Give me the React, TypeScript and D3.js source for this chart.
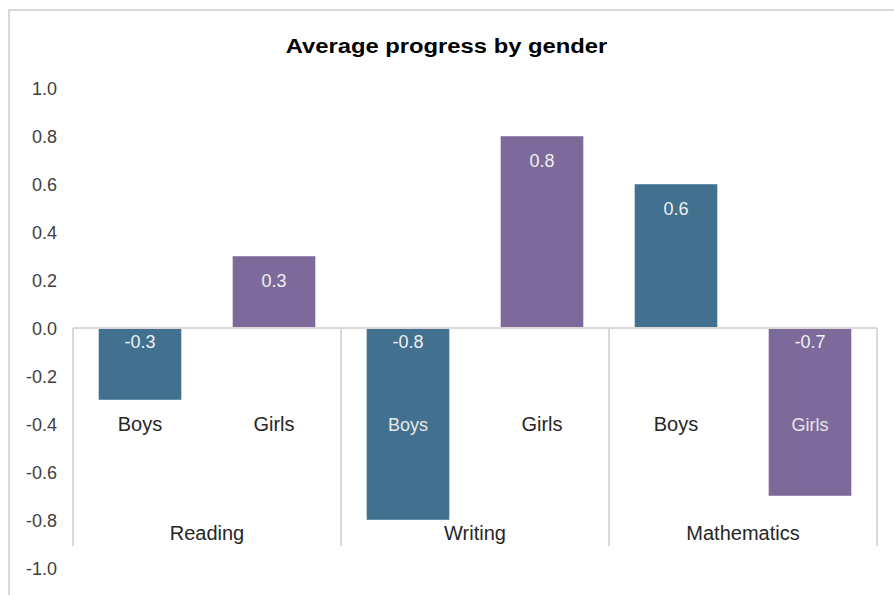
import React from "react";
import * as d3 from "d3";

const subjects = ["Reading", "Writing", "Mathematics"];
const genders = ["Boys", "Girls"];
const boysValues = [-0.3, -0.8, 0.6];
const girlsValues = [0.3, 0.8, -0.7];
const yTicks = [1.0, 0.8, 0.6, 0.4, 0.2, 0.0, -0.2, -0.4, -0.6, -0.8, -1.0];
const title = "Average progress by gender";

const colors: Record<string, string> = { Boys: "#41718F", Girls: "#7D6A9A" };

export default function App() {
  const W = 894;
  const H = 595;
  const left = 73;
  const right = 877;
  const y = d3.scaleLinear().domain([-1, 1]).range([568, 88]);
  const x0 = d3.scaleBand<string>().domain(subjects).range([left, right]).padding(0);
  const x1 = d3
    .scaleBand<string>()
    .domain(genders)
    .range([0, x0.bandwidth()])
    .paddingInner(0.38)
    .paddingOuter(0.19);

  const rows = subjects.flatMap((s, i) => [
    { subject: s, gender: "Boys", value: boysValues[i] },
    { subject: s, gender: "Girls", value: girlsValues[i] },
  ]);

  const fmt = (v: number) => (Math.abs(v) < 1e-9 ? 0 : v).toFixed(1);
  const zero = y(0);
  const genderLabelY = 431;
  const genderLabelValue = y.invert(424);
  const dividerBottom = 546;
  const font = "Arial, 'Liberation Sans', sans-serif";

  return (
    <svg
      width={W}
      height={H}
      style={{ position: "absolute", left: 0, top: 0, background: "#fff" }}
      fontFamily={font}
    >
      <rect x={9} y={10} width={W + 20} height={H + 20} fill="#fff" stroke="#d9d9d9" strokeWidth={2} />
      <text
        transform="translate(446.5,53) scale(1.19,1)"
        textAnchor="middle"
        fontSize={20}
        fontWeight="bold"
        fill="#000"
      >
        {title}
      </text>
      {yTicks.map((t) => (
        <text key={t} x={57} y={y(t) + 6.5} textAnchor="end" fontSize={18} fill="#404040">
          {fmt(t)}
        </text>
      ))}
      {rows.map((r) => {
        const bx = (x0(r.subject) as number) + (x1(r.gender) as number);
        const bw = x1.bandwidth();
        const top = Math.min(y(r.value), zero);
        const h = Math.abs(y(r.value) - zero);
        return (
          <rect
            key={r.subject + r.gender}
            x={bx}
            y={top}
            width={bw}
            height={h}
            fill={colors[r.gender]}
            stroke="rgba(255,255,255,0.45)"
            strokeWidth={1}
          />
        );
      })}
      <line x1={left} x2={right} y1={zero} y2={zero} stroke="#d9d9d9" strokeWidth={2} />
      {[...subjects.map((s) => x0(s) as number), right].map((xv, i) => (
        <line key={i} x1={xv} x2={xv} y1={zero} y2={dividerBottom} stroke="#d9d9d9" strokeWidth={2} />
      ))}
      {rows.map((r) => {
        const cx = (x0(r.subject) as number) + (x1(r.gender) as number) + x1.bandwidth() / 2;
        const vy = r.value >= 0 ? y(r.value) + 31 : zero + 20;
        return (
          <text key={"v" + r.subject + r.gender} x={cx} y={vy} textAnchor="middle" fontSize={18} fill="#f0f0f0">
            {fmt(r.value)}
          </text>
        );
      })}
      {rows.map((r) => {
        const cx = (x0(r.subject) as number) + (x1(r.gender) as number) + x1.bandwidth() / 2;
        const inside = r.value < genderLabelValue;
        return (
          <text
            key={"g" + r.subject + r.gender}
            x={cx}
            y={genderLabelY}
            textAnchor="middle"
            fontSize={inside ? 18 : 20}
            fill={inside ? "#e8e8e8" : "#262626"}
          >
            {r.gender}
          </text>
        );
      })}
      {subjects.map((s) => (
        <text
          key={s}
          x={(x0(s) as number) + x0.bandwidth() / 2}
          y={540}
          textAnchor="middle"
          fontSize={20}
          fill="#262626"
        >
          {s}
        </text>
      ))}
    </svg>
  );
}
